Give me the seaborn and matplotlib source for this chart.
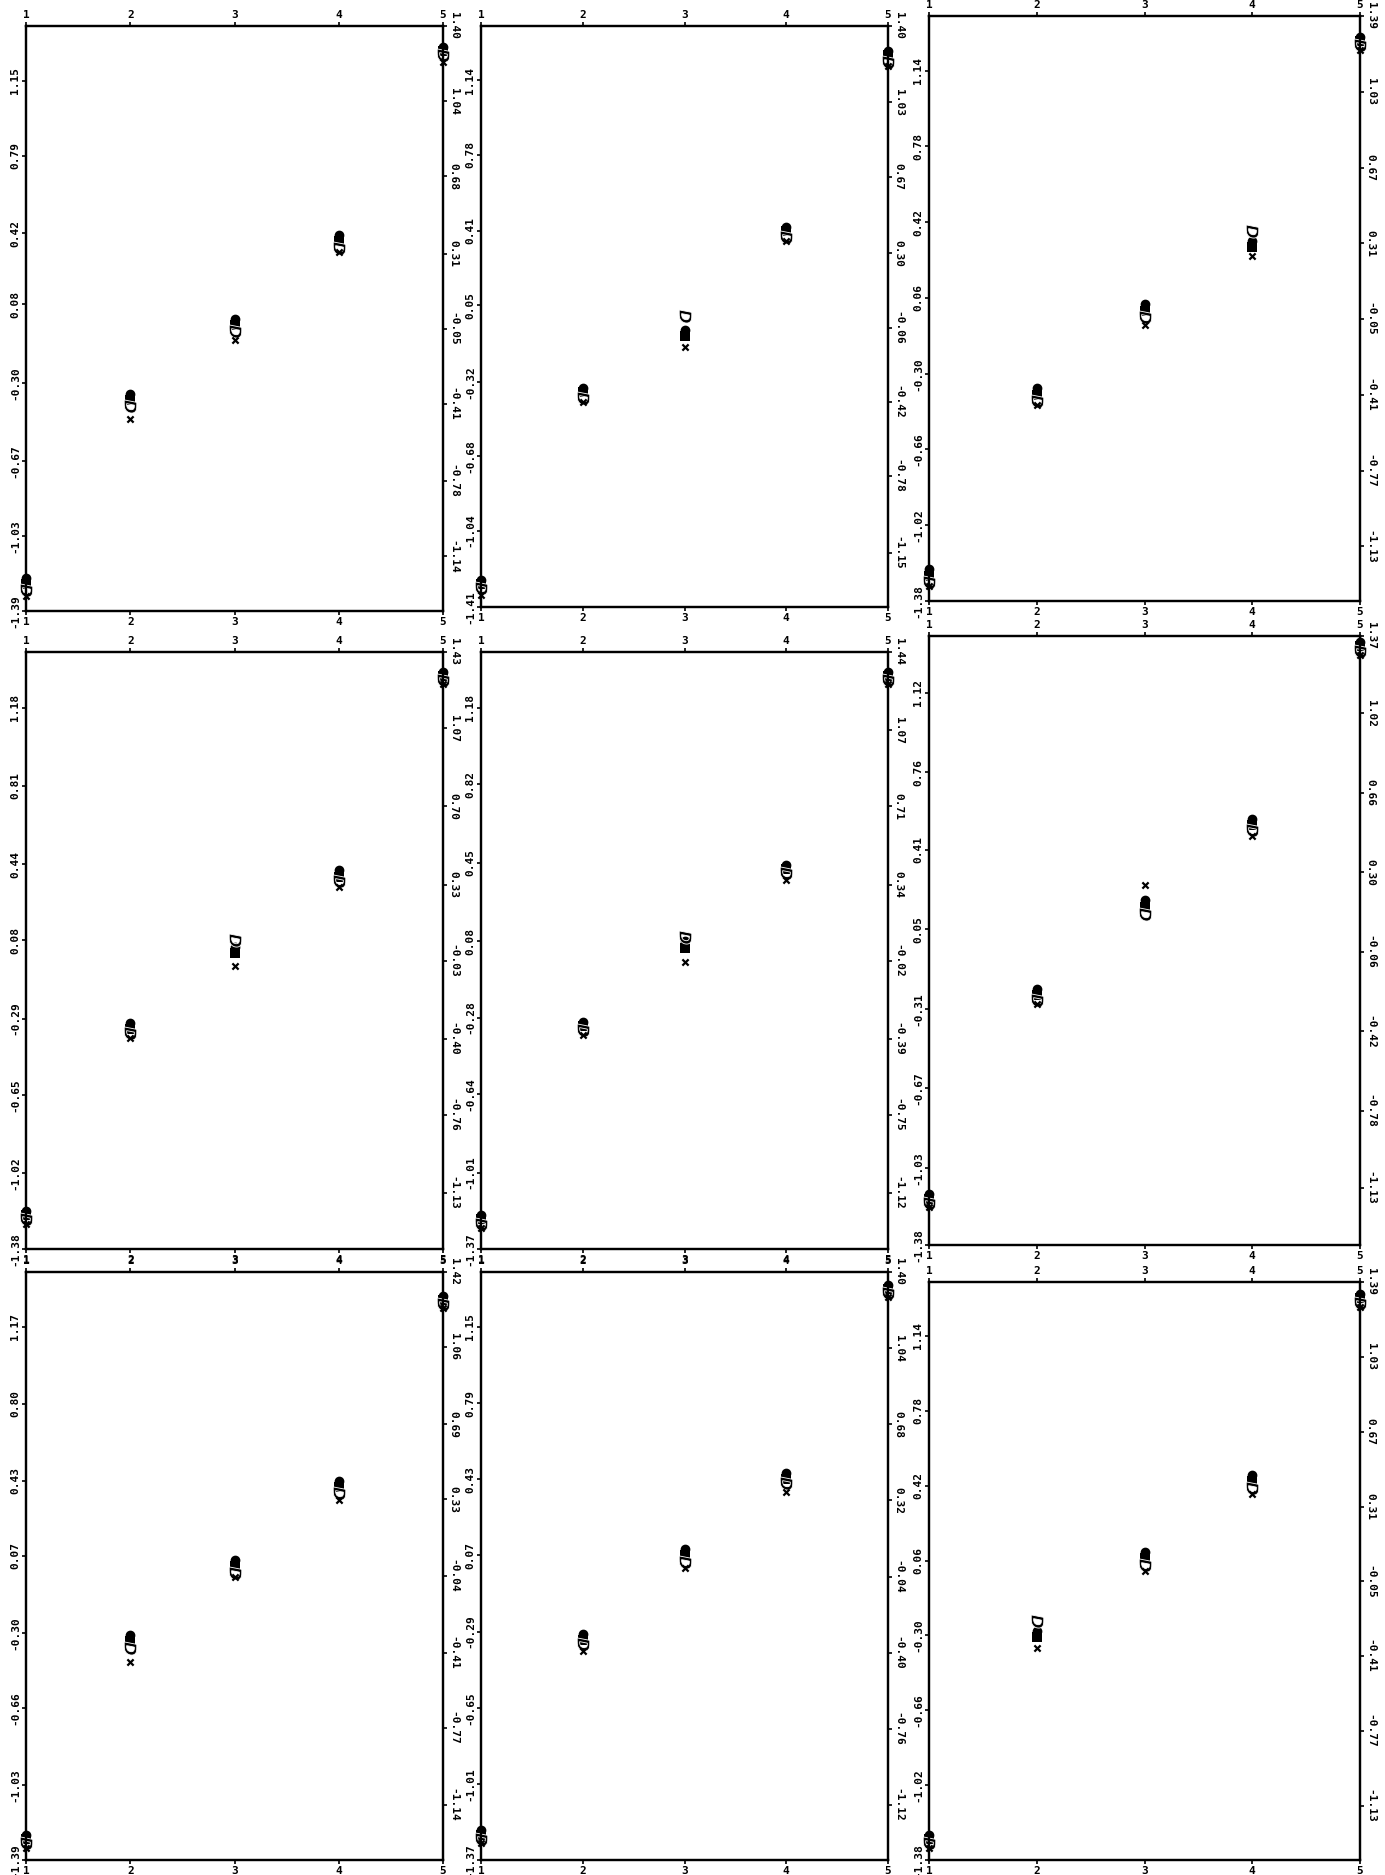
import matplotlib
matplotlib.use("Agg")
import matplotlib.pyplot as plt
import seaborn as sns
import pandas as pd
from matplotlib.markers import MarkerStyle
from matplotlib.transforms import Affine2D

positions = [1, 2, 3, 4, 5]
series_names = ["B", "O", "D", "x"]

# tick labels (top to bottom)
left_11 = [1.15, 0.79, 0.42, 0.08, -0.30, -0.67, -1.03, -1.39]
right_11 = [1.40, 1.04, 0.68, 0.31, -0.05, -0.41, -0.78, -1.14]
left_12 = [1.14, 0.78, 0.41, 0.05, -0.32, -0.68, -1.04, -1.41]
right_12 = [1.40, 1.03, 0.67, 0.30, -0.06, -0.42, -0.78, -1.15]
left_13 = [1.14, 0.78, 0.42, 0.06, -0.30, -0.66, -1.02, -1.38]
right_13 = [1.39, 1.03, 0.67, 0.31, -0.05, -0.41, -0.77, -1.13]
left_21 = [1.18, 0.81, 0.44, 0.08, -0.29, -0.65, -1.02, -1.38]
right_21 = [1.43, 1.07, 0.70, 0.33, -0.03, -0.40, -0.76, -1.13]
left_22 = [1.18, 0.82, 0.45, 0.08, -0.28, -0.64, -1.01, -1.37]
right_22 = [1.44, 1.07, 0.71, 0.34, -0.02, -0.39, -0.75, -1.12]
left_23 = [1.12, 0.76, 0.41, 0.05, -0.31, -0.67, -1.03, -1.38]
right_23 = [1.37, 1.02, 0.66, 0.30, -0.06, -0.42, -0.78, -1.13]
left_31 = [1.17, 0.80, 0.43, 0.07, -0.30, -0.66, -1.03, -1.39]
right_31 = [1.42, 1.06, 0.69, 0.33, -0.04, -0.41, -0.77, -1.14]
left_32 = [1.15, 0.79, 0.43, 0.07, -0.29, -0.65, -1.01, -1.37]
right_32 = [1.40, 1.04, 0.68, 0.32, -0.04, -0.40, -0.76, -1.12]
left_33 = [1.14, 0.78, 0.42, 0.06, -0.30, -0.66, -1.02, -1.38]
right_33 = [1.39, 1.03, 0.67, 0.31, -0.05, -0.41, -0.77, -1.13]

# point values per panel, one list per series (positions 1..5)
vals_11 = {"B": [-1.26, -0.38, -0.02, 0.38, 1.29], "O": [-1.23, -0.35, 0.01, 0.41, 1.31],
           "D": [-1.29, -0.41, -0.05, 0.35, 1.27], "x": [-1.32, -0.47, -0.09, 0.33, 1.24]}
vals_12 = {"B": [-1.30, -0.37, -0.10, 0.41, 1.26], "O": [-1.28, -0.35, -0.07, 0.43, 1.28],
           "D": [-1.32, -0.40, 0.00, 0.38, 1.23], "x": [-1.35, -0.42, -0.15, 0.36, 1.21]}
vals_13 = {"B": [-1.26, -0.40, 0.00, 0.30, 1.28], "O": [-1.23, -0.37, 0.03, 0.33, 1.30],
           "D": [-1.29, -0.43, -0.03, 0.38, 1.26], "x": [-1.31, -0.45, -0.07, 0.26, 1.24]}
vals_21 = {"B": [-1.22, -0.34, 0.02, 0.38, 1.33], "O": [-1.20, -0.31, 0.05, 0.41, 1.35],
           "D": [-1.24, -0.36, 0.08, 0.36, 1.31], "x": [-1.26, -0.38, -0.04, 0.33, 1.29]}
vals_22 = {"B": [-1.23, -0.32, 0.05, 0.42, 1.33], "O": [-1.21, -0.30, 0.08, 0.44, 1.35],
           "D": [-1.25, -0.34, 0.10, 0.40, 1.31], "x": [-1.27, -0.36, -0.02, 0.37, 1.29]}
vals_23 = {"B": [-1.17, -0.25, 0.15, 0.52, 1.33], "O": [-1.15, -0.22, 0.18, 0.55, 1.35],
           "D": [-1.19, -0.27, 0.12, 0.50, 1.31], "x": [-1.21, -0.29, 0.25, 0.47, 1.29]}
vals_31 = {"B": [-1.29, -0.34, 0.02, 0.40, 1.30], "O": [-1.27, -0.31, 0.05, 0.43, 1.32],
           "D": [-1.31, -0.37, -0.01, 0.37, 1.28], "x": [-1.33, -0.44, -0.03, 0.34, 1.26]}
vals_32 = {"B": [-1.25, -0.33, 0.07, 0.43, 1.33], "O": [-1.23, -0.30, 0.10, 0.46, 1.35],
           "D": [-1.27, -0.35, 0.04, 0.41, 1.31], "x": [-1.29, -0.38, 0.01, 0.37, 1.29]}
vals_33 = {"B": [-1.28, -0.31, 0.07, 0.44, 1.32], "O": [-1.26, -0.28, 0.10, 0.47, 1.34],
           "D": [-1.30, -0.23, 0.04, 0.41, 1.30], "x": [-1.32, -0.36, 0.01, 0.38, 1.28]}

# panel boxes in pixels: x0, y0, x1, y1
boxes = {
    (1, 1): (26, 26, 443, 611), (1, 2): (481, 26, 888, 607), (1, 3): (929, 16, 1360, 601),
    (2, 1): (26, 652, 443, 1249), (2, 2): (481, 652, 888, 1249), (2, 3): (929, 636, 1360, 1245),
    (3, 1): (26, 1272, 443, 1860), (3, 2): (481, 1272, 888, 1860), (3, 3): (929, 1282, 1360, 1860),
}
panels = {
    (1, 1): (left_11, right_11, vals_11), (1, 2): (left_12, right_12, vals_12), (1, 3): (left_13, right_13, vals_13),
    (2, 1): (left_21, right_21, vals_21), (2, 2): (left_22, right_22, vals_22), (2, 3): (left_23, right_23, vals_23),
    (3, 1): (left_31, right_31, vals_31), (3, 2): (left_32, right_32, vals_32), (3, 3): (left_33, right_33, vals_33),
}

sns.set_style("white")
plt.rcParams["font.family"] = ["DejaVu Sans Mono"]
plt.rcParams["font.weight"] = "bold"

rot_d = MarkerStyle("$D$", transform=Affine2D().rotate_deg(-90))
styles = {
    "B": dict(marker="s", color="black", s=42, linewidth=0),
    "O": dict(marker="o", color="black", edgecolor="black", s=36, linewidth=1.0),
    "D": dict(marker=rot_d, color="black", s=90, linewidth=0.6),
    "x": dict(marker="x", color="black", s=20, linewidth=1.6),
}

W, H = 1385, 1875
fig = plt.figure(figsize=(W / 100, H / 100), dpi=100)
span = 7.72 / 7
fs = 8

for key, (x0, y0, x1, y1) in boxes.items():
    left, right, vals = panels[key]
    ax = fig.add_axes([x0 / W, 1 - y1 / H, (x1 - x0) / W, (y1 - y0) / H])

    rows = []
    for name in series_names:
        for p, v in zip(positions, vals[name]):
            rows.append({"pos": p, "value": v, "series": name})
    df = pd.DataFrame(rows)

    for name in series_names:
        sub = df[df["series"] == name]
        sns.scatterplot(data=sub, x="pos", y="value", ax=ax, legend=False,
                        clip_on=False, zorder=5, **styles[name])

    lo = min(left)
    ax.set_ylim(lo, lo + (max(left) - lo) * span)
    ax.set_yticks(left)
    ax.set_yticklabels([f"{v:.2f}" for v in left], rotation=90, va="center", fontsize=fs)
    ax.set_xlim(1, 5)
    ax.set_xticks(positions)
    ax.set_xticklabels([str(p) for p in positions], fontsize=fs)
    ax.tick_params(axis="x", top=True, labeltop=True, bottom=True, labelbottom=True,
                   direction="out", length=3, width=1.2, pad=1, colors="black")
    ax.tick_params(axis="y", direction="out", length=3, width=1.2, pad=1, colors="black")
    ax.set_xlabel("")
    ax.set_ylabel("")

    ax2 = ax.twinx()
    hi = max(right)
    ax2.set_ylim(hi - (hi - min(right)) * span, hi)
    ax2.set_yticks(right)
    ax2.set_yticklabels([f"{v:.2f}" for v in right], rotation=-90, va="center", fontsize=fs)
    ax2.tick_params(axis="y", direction="out", length=3, width=1.2, pad=1, colors="black")

    for a in (ax, ax2):
        for sp in a.spines.values():
            sp.set_linewidth(1.6)
            sp.set_color("black")

fig.savefig("out.png", dpi=100, facecolor="white")
